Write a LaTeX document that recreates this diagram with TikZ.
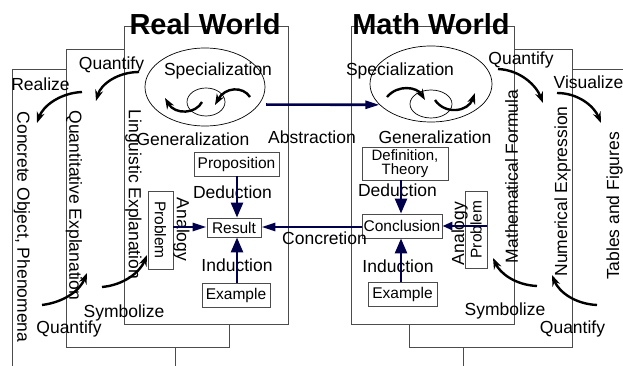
\documentclass[tikz,border=0pt]{standalone}
\usepackage{fontspec}
\setmainfont{Liberation Sans}
\usetikzlibrary{arrows.meta,shapes.geometric}

\definecolor{darknavy}{rgb}{0,0,0.3}
\definecolor{framegray}{rgb}{0.3,0.3,0.3}

\begin{document}
\begin{tikzpicture}[x=1pt,y=-1pt,
  frame/.style={draw=framegray,fill=white,line width=0.9pt},
  title/.style={font=\fontsize{29}{30}\selectfont\bfseries,inner sep=0pt,anchor=base},
  lbl/.style={font=\fontsize{17.5}{19}\selectfont,inner sep=0pt,anchor=base},
  vlbl/.style={font=\fontsize{17.5}{19}\selectfont,inner sep=0pt,rotate=-90},
  vlblr/.style={font=\fontsize{17.5}{19}\selectfont,inner sep=0pt,rotate=90},
  item/.style={draw=framegray,fill=white,line width=0.9pt,inner sep=0pt,
    font=\fontsize{15.5}{15}\selectfont},
  cycle/.style={draw,ellipse,line width=0.7pt,inner sep=0pt},
  flowv/.style={darknavy,line width=2.6pt,-{Triangle[length=15pt,width=12pt]}},
  flowh/.style={darknavy,line width=2.6pt,-{Triangle[length=14pt,width=8pt]}},
  turn/.style={line width=2.4pt,-{Stealth[length=11pt,width=8pt,fill=darknavy]}},
]
\useasboundingbox (0,0) rectangle (623,366);
\clip (0,0) rectangle (623,366);

% stacked frames, real side
\draw[frame] (12,69) rectangle (175,390);
\draw[frame] (66,49) rectangle (229,347);
\draw[frame] (124,26) rectangle (288,324);
% stacked frames, math side
\draw[frame] (463,69) rectangle (650,390);
\draw[frame] (409,49) rectangle (572,347);
\draw[frame] (351,26) rectangle (514,324);

\node[title] (realw) at (205,35) {Real World};
\node[title] (mathw) at (431,35) {Math World};

% specialization / generalization loops
\node[cycle,minimum width=120pt,minimum height=78pt] (loopL) at (205,87) {};
\node[cycle,minimum width=38pt,minimum height=28pt] (ringL) at (206,102) {};
\node[cycle,minimum width=122pt,minimum height=76pt] (loopR) at (431,84) {};
\node[cycle,minimum width=42pt,minimum height=28pt] (ringR) at (431,104) {};

\node[lbl] (specL) at (218,76) {Specialization};
\node[lbl] (specR) at (400,76) {Specialization};
\node[lbl] (genL) at (193,146) {Generalization};
\node[lbl] (genR) at (435,144) {Generalization};

\coordinate (a1) at (250,97);  \coordinate (a2) at (215,105);
\coordinate (a3) at (202,102); \coordinate (a4) at (165,98);
\coordinate (b1) at (387,97);  \coordinate (b2) at (425,100);
\coordinate (b3) at (435,100); \coordinate (b4) at (475,93);
\draw[turn] (a1) .. controls (243,86) and (225,87) .. (a2);
\draw[turn] (a3) .. controls (196,114) and (175,115) .. (a4);
\draw[turn] (b1) .. controls (398,84) and (417,87) .. (b2);
\draw[turn] (b3) .. controls (445,115) and (468,112) .. (b4);

% abstraction / concretion
\draw[flowh] ([xshift=7pt]loopL.-18) -- (loopR.202);
\node[lbl] (abstr) at (312,144) {Abstraction};

% real world reasoning
\node[item,minimum width=85pt,minimum height=24pt] (prop) at (236.5,164) {Proposition};
\node[item,minimum width=54pt,minimum height=19pt] (result) at (234,227.5) {Result};
\node[item,minimum width=68pt,minimum height=24pt] (exL) at (236,295) {Example};
\node[item,rotate=-90,minimum width=78pt,minimum height=25pt] (probL) at (160.5,230) {Problem};
\node[lbl] (dedL) at (232.5,198) {Deduction};
\node[lbl] (indL) at (237,271) {Induction};
\node[vlbl] (anaL) at (181.5,229.5) {Analogy};
\draw[flowv] (prop.south -| 237,0) -- (result.north -| 237,0);
\draw[flowv] (exL.north -| 237,0) -- (result.south -| 237,0);
\draw[flowh] (probL.north |- 0,227) -- (result.west |- 0,227);

% math world reasoning
\node[item,minimum width=86pt,minimum height=33pt,align=center,
  font=\fontsize{15}{14.5}\selectfont] (defn) at (405,163.5) {Definition,\\Theory};
\node[item,minimum width=80pt,minimum height=24pt] (concl) at (402,226) {Conclusion};
\node[item,minimum width=69pt,minimum height=24pt] (exR) at (402.5,294) {Example};
\node[item,rotate=90,minimum width=77pt,minimum height=22pt] (probR) at (476,229.5) {Problem};
\node[lbl] (dedR) at (397.5,196) {Deduction};
\node[lbl] (indR) at (398,272) {Induction};
\node[vlblr] (anaR) at (459.5,233.5) {Analogy};
\draw[flowv] (defn.south -| 401,0) -- (concl.north -| 401,0);
\draw[flowv] (exR.north -| 401,0) -- (concl.south -| 401,0);
\draw[flowh,-{Triangle[length=10pt,width=8pt]}] (probR.south |- 0,226) -- (concl.east |- 0,226);

\draw[flowh] (concl.west |- 0,227) -- (result.east |- 0,227);
\node[lbl] (concr) at (324.5,244) {Concretion};

% side labels
\node[vlbl] (concrete) at (22,227) {Concrete Object, Phenomena};
\node[vlbl] (quantex) at (74,205.5) {Quantitative Explanation};
\node[vlbl] (lingex) at (133.5,194.5) {Linguistic Explanation};
\node[vlblr] (mathf) at (511.5,176.5) {Mathematical Formula};
\node[vlblr] (numex) at (562.5,191.5) {Numerical Expression};
\node[vlblr] (tables) at (614.5,206) {Tables and Figures};

\node[lbl] (qTL) at (111.5,70) {Quantify};
\node[lbl] (realize) at (40.5,91) {Realize};
\node[lbl] (qTR) at (521,65) {Quantify};
\node[lbl] (visual) at (588.5,89) {Visualize};
\node[lbl] (symL) at (124,317) {Symbolize};
\node[lbl] (qBL) at (69,333) {Quantify};
\node[lbl] (symR) at (505,315) {Symbolize};
\node[lbl] (qBR) at (572.5,333) {Quantify};

% passing between the frames
\coordinate (c1) at (139,72);  \coordinate (c2) at (96,101);
\coordinate (c3) at (82,92);   \coordinate (c4) at (37,123);
\coordinate (d1) at (498,69);  \coordinate (d2) at (543,103);
\coordinate (d3) at (557,93);  \coordinate (d4) at (601,123);
\coordinate (e1) at (42,305);  \coordinate (e2) at (87,273);
\coordinate (e3) at (102,287); \coordinate (e4) at (147,255);
\coordinate (f1) at (537,286); \coordinate (f2) at (493,258);
\coordinate (f3) at (597,305); \coordinate (f4) at (552,275);
\draw[turn] (c1) .. controls (118,72) and (101,84) .. (c2);
\draw[turn] (c3) .. controls (60,93) and (43,106) .. (c4);
\draw[turn] (d1) .. controls (520,70) and (536,85) .. (d2);
\draw[turn] (d3) .. controls (578,93) and (594,106) .. (d4);
\draw[turn] (e1) .. controls (65,302) and (80,290) .. (e2);
\draw[turn] (e3) .. controls (124,285) and (140,272) .. (e4);
\draw[turn] (f1) .. controls (515,285) and (500,273) .. (f2);
\draw[turn] (f3) .. controls (575,304) and (559,292) .. (f4);
\end{tikzpicture}
\end{document}
